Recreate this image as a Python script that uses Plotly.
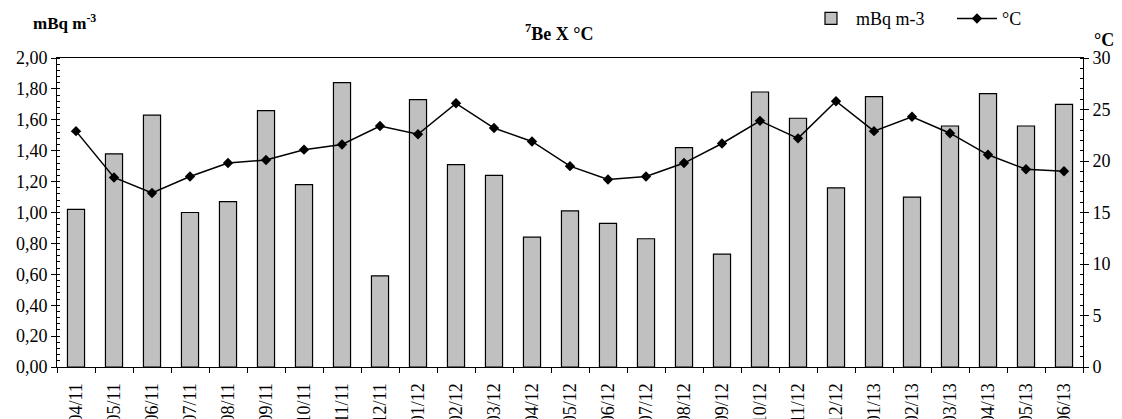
import plotly.graph_objects as go

months = ["04/11", "05/11", "06/11", "07/11", "08/11", "09/11", "10/11", "11/11", "12/11",
          "01/12", "02/12", "03/12", "04/12", "05/12", "06/12", "07/12", "08/12", "09/12",
          "10/12", "11/12", "12/12", "01/13", "02/13", "03/13", "04/13", "05/13", "06/13"]

be7 = [1.02, 1.38, 1.63, 1.00, 1.07, 1.66, 1.18, 1.84, 0.59,
       1.73, 1.31, 1.24, 0.84, 1.01, 0.93, 0.83, 1.42, 0.73,
       1.78, 1.61, 1.16, 1.75, 1.10, 1.56, 1.77, 1.56, 1.70]

temp = [22.9, 18.4, 16.9, 18.5, 19.8, 20.1, 21.1, 21.6, 23.4,
        22.6, 25.6, 23.2, 21.9, 19.5, 18.2, 18.5, 19.8, 21.7,
        23.9, 22.2, 25.8, 22.9, 24.3, 22.7, 20.6, 19.2, 19.0]

FONT = "Liberation Serif"
TICKFONT = dict(family=FONT, size=18, color="black")

fig = go.Figure()
fig.add_trace(go.Bar(
    x=months, y=be7, name="mBq m-3",
    marker=dict(color="#c0c0c0", line=dict(color="black", width=1.2)),
    yaxis="y",
))
fig.add_trace(go.Scatter(
    x=months, y=temp, name="°C", mode="lines+markers",
    line=dict(color="black", width=1.5),
    marker=dict(symbol="diamond", size=8, color="black"),
    yaxis="y2",
))

fig.update_layout(
    width=1122, height=419,
    margin=dict(l=57, r=39, t=58, b=52, autoexpand=False),
    paper_bgcolor="white", plot_bgcolor="white",
    font=dict(family=FONT, size=18, color="black"),
    separators=", ",
    bargap=0.55,
    showlegend=True,
    legend=dict(orientation="h", x=0.73, xanchor="left", y=1.127, yanchor="middle",
                font=dict(family=FONT, size=18), bgcolor="rgba(0,0,0,0)", itemwidth=40,
                entrywidth=91, entrywidthmode="pixels"),
    xaxis=dict(
        type="category", categoryorder="array", categoryarray=months,
        range=[-0.5, 26.5],
        tickson="boundaries", ticks="outside", ticklen=5, tickcolor="black",
        tickangle=-90, tickfont=TICKFONT, ticklabelstandoff=8,
        showline=True, linecolor="black", linewidth=1, mirror=True,
        showgrid=False, zeroline=False,
    ),
    xaxis2=dict(
        type="category", categoryorder="array", categoryarray=months,
        range=[-0.5, 26.5], overlaying="x",
        tickson="boundaries", ticks="inside", ticklen=5, tickcolor="black",
        showticklabels=False, showline=False, showgrid=False, zeroline=False,
    ),
    yaxis=dict(
        range=[0, 2], dtick=0.2, tickformat=".2f", tickfont=TICKFONT,
        ticks="outside", ticklen=5, tickcolor="black",
        minor=dict(dtick=0.04, ticks="inside", ticklen=3, tickcolor="black"),
        showline=True, linecolor="black", linewidth=1,
        showgrid=False, zeroline=False,
    ),
    yaxis2=dict(
        range=[0, 30], dtick=5, overlaying="y", side="right", tickfont=TICKFONT,
        ticks="outside", ticklen=5, tickcolor="black",
        minor=dict(dtick=1, ticks="inside", ticklen=3, tickcolor="black"),
        showline=True, linecolor="black", linewidth=1,
        showgrid=False, zeroline=False,
    ),
    annotations=[
        dict(text="<b>mBq m<sup>-3</sup></b>", xref="paper", yref="paper",
             x=-0.0253, y=1.118, xanchor="left", yanchor="middle",
             showarrow=False, font=dict(family=FONT, size=17)),
        dict(text="<b><sup>7</sup>Be X °C</b>", xref="paper", yref="paper",
             x=0.49, y=1.083, xanchor="center", yanchor="middle",
             showarrow=False, font=dict(family=FONT, size=18)),
        dict(text="<b>°C</b>", xref="paper", yref="paper",
             x=1.0205, y=1.057, xanchor="center", yanchor="middle",
             showarrow=False, font=dict(family=FONT, size=18)),
    ],
)

fig.write_html("out.html", config={"displayModeBar": False},
               post_script="document.body.style.margin='0';document.body.style.padding='0';")
